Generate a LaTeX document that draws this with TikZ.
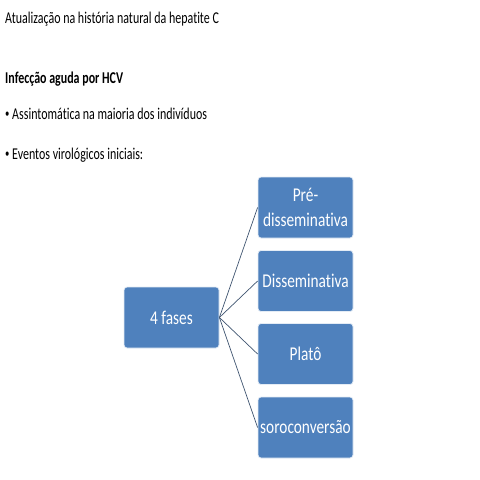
\documentclass[tikz,border=0pt]{standalone}
\usepackage{fontspec}
\setmainfont[Ligatures=NoCommon]{Carlito}
\usepackage{xcolor}
\usepackage{graphicx}
\usetikzlibrary{positioning}

\definecolor{boxblue}{HTML}{4F81BD}
\definecolor{boxedge}{HTML}{E4ECF5}
\definecolor{linkgray}{HTML}{3F5470}

% condensed look of the slide text
\newcommand{\slidetext}[1]{\scalebox{0.725}[1]{#1}}
\newcommand{\boxtext}[1]{\scalebox{0.787}[1]{#1}}
\newcommand{\smallbullet}{\raisebox{1.2pt}{\fontsize{12}{12}\selectfont •}}

\begin{document}
\begin{tikzpicture}[
    x=1pt, y=-1pt,
    textline/.style={anchor=base west, inner sep=0pt, font=\fontsize{16.5}{19}\selectfont},
    phasebox/.style={draw=boxedge, line width=0.8pt, fill=boxblue, rounded corners=3pt, minimum width=95pt, minimum height=61pt, align=center, text=white, inner sep=1pt, font=\fontsize{19.5}{25.7}\selectfont},
    link/.style={draw=linkgray, line width=0.7pt}
]
    \useasboundingbox (0,0) rectangle (480,480);

    % Heading and bullets
    \node[textline] (titulo) at (5,23) {\slidetext{Atualização na história natural da hepatite C}};
    \node[textline] (infec) at (5,83.5) {\slidetext{\textbf{Infecção aguda por HCV}}};
    \node[textline] (assint) at (5,119) {\slidetext{\smallbullet\ Assintomática na maioria dos indivíduos}};
    \node[textline] (eventos) at (5,159) {\slidetext{\smallbullet\ Eventos virológicos iniciais:}};

    % Hub and phases
    \node[phasebox] (fases) at (171.5,317.5) {\boxtext{4 fases}};
    \node[phasebox] (pre) at (305.5,207.5) {\boxtext{Pré-}\\\boxtext{disseminativa}};
    \node[phasebox] (dissem) at (305.5,281) {\boxtext{Disseminativa}};
    \node[phasebox] (plato) at (305.5,354) {\boxtext{Platô}};
    \node[phasebox] (sorocon) at (305.5,427.5) {\boxtext{soroconversão}};

    % Connections
    \draw[link] (fases.east) -- (pre.west);
    \draw[link] (fases.east) -- (dissem.west);
    \draw[link] (fases.east) -- (plato.west);
    \draw[link] (fases.east) -- (sorocon.west);

\end{tikzpicture}
\end{document}
